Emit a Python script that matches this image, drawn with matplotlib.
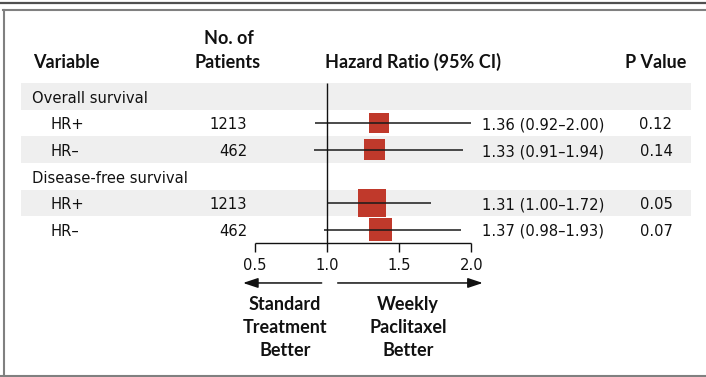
import numpy as np
import matplotlib
matplotlib.use("Agg")
import matplotlib.pyplot as plt
from matplotlib.lines import Line2D

# forest plot data
groups = ["Overall survival", "Disease-free survival"]
subgroups = ["HR+", "HR\u2013", "HR+", "HR\u2013"]
patients = [1213, 462, 1213, 462]
hr = [1.36, 1.33, 1.31, 1.37]
ci_lo = [0.92, 0.91, 1.00, 0.98]
ci_hi = [2.00, 1.94, 1.72, 1.93]
p_values = ["0.12", "0.14", "0.05", "0.07"]
ticks = [0.5, 1.0, 1.5, 2.0]
left_label = ["Standard", "Treatment", "Better"]
right_label = ["Weekly", "Paclitaxel", "Better"]

W, H = 706, 377
fig = plt.figure(figsize=(W / 100, H / 100), dpi=100)
ax = fig.add_axes([0, 0, 1, 1])
ax.axis("off")

# 1 HR unit = 144.5 px, HR 1.0 sits at x=327 px
ppu = 144.5
ax.set_xlim(1 - 327 / ppu, 1 + (W - 327) / ppu)
# rows are 26.6 px tall, first row centred at y=96.5 px
rh = 26.6
ax.set_ylim((H - 96.5) / rh, -96.5 / rh)

body = dict(family="DejaVu Sans", fontsize=10.6, color="#111111")
bold = dict(family="Lato", fontsize=13, fontweight="bold", color="#111111")


def fx(px):
    return px / W


def fy(px):
    return 1 - px / H


# frame
fig.add_artist(Line2D([0, 1], [fy(2.5), fy(2.5)], color="#505050", lw=1.6))
fig.add_artist(Line2D([fx(3), 1], [fy(9.5), fy(9.5)], color="#808080", lw=1.5))
fig.add_artist(Line2D([fx(3.5), fx(3.5)], [fy(9.5), 0], color="#808080", lw=1.5))
fig.add_artist(Line2D([0, 1], [fy(376), fy(376)], color="#808080", lw=1.5))

# column headers
fig.text(fx(33), fy(68), "Variable", ha="left", va="baseline", **bold)
fig.text(fx(229), fy(43.5), "No. of", ha="center", va="baseline", **bold)
fig.text(fx(228), fy(68), "Patients", ha="center", va="baseline", **bold)
fig.text(fx(413), fy(68), "Hazard Ratio (95% CI)", ha="center", va="baseline", **bold)
fig.text(fx(656), fy(68), "P Value", ha="center", va="baseline", **bold)

# row layout: group header, then its two subgroups
data_rows = [1, 2, 4, 5]
header_rows = [0, 3]
shaded = [0, 2, 4]
for r in shaded:
    ax.axhspan(r - 0.5, r + 0.5, xmin=fx(21), xmax=fx(691), color="#efefef", lw=0, zorder=0)

base = 0.24
ytr = ax.get_yaxis_transform()
for g, r in zip(groups, header_rows):
    ax.text(fx(32), r + base, g, transform=ytr, ha="left", va="baseline", **body)

for i, r in enumerate(data_rows):
    ax.text(fx(50), r + base, subgroups[i], transform=ytr, ha="left", va="baseline", **body)
    ax.text(fx(247), r + base, str(patients[i]), transform=ytr, ha="right", va="baseline", **body)
    ax.text(fx(482), r + base, f"{hr[i]:.2f} ({ci_lo[i]:.2f}\u2013{ci_hi[i]:.2f})",
            transform=ytr, ha="left", va="baseline", **body)
    ax.text(fx(656), r + base, p_values[i], transform=ytr, ha="center", va="baseline", **body)

# squares sized by precision of the estimate
side_px = [15.5 / np.log(h / l) for l, h in zip(ci_lo, ci_hi)]
ax.scatter(hr, data_rows, marker="s", s=[(s * 0.72) ** 2 for s in side_px],
           color="#c0392b", lw=0, zorder=2)
ax.hlines(data_rows, ci_lo, ci_hi, color="#1a1a1a", lw=1.1, zorder=3)

# reference line and axis
axis_y = 5.52
tick_y = 5.83
ax.vlines(1.0, -0.5, axis_y, color="#111111", lw=1.0, zorder=3)
ax.hlines(axis_y, ticks[0], ticks[-1], color="#111111", lw=1.0)
ax.vlines(ticks, axis_y, tick_y, color="#111111", lw=1.0)
for t in ticks:
    ax.text(t, 6.52, f"{t:.1f}", ha="center", va="baseline", **body)

# direction arrows
arrow_y = 7.01
arrow = dict(arrowstyle="-|>,head_length=0.9,head_width=0.3", color="#111111", lw=1.1,
             shrinkA=0, shrinkB=0)
ax.annotate("", xy=(0.419, arrow_y), xytext=(0.963, arrow_y), arrowprops=arrow)
ax.annotate("", xy=(2.078, arrow_y), xytext=(1.074, arrow_y), arrowprops=arrow)

for k, (a, b) in enumerate(zip(left_label, right_label)):
    yy = 8.03 + k * 0.865
    ax.text(0.71, yy, a, ha="center", va="baseline", **bold)
    ax.text(1.56, yy, b, ha="center", va="baseline", **bold)

fig.savefig("out.png", dpi=100)
